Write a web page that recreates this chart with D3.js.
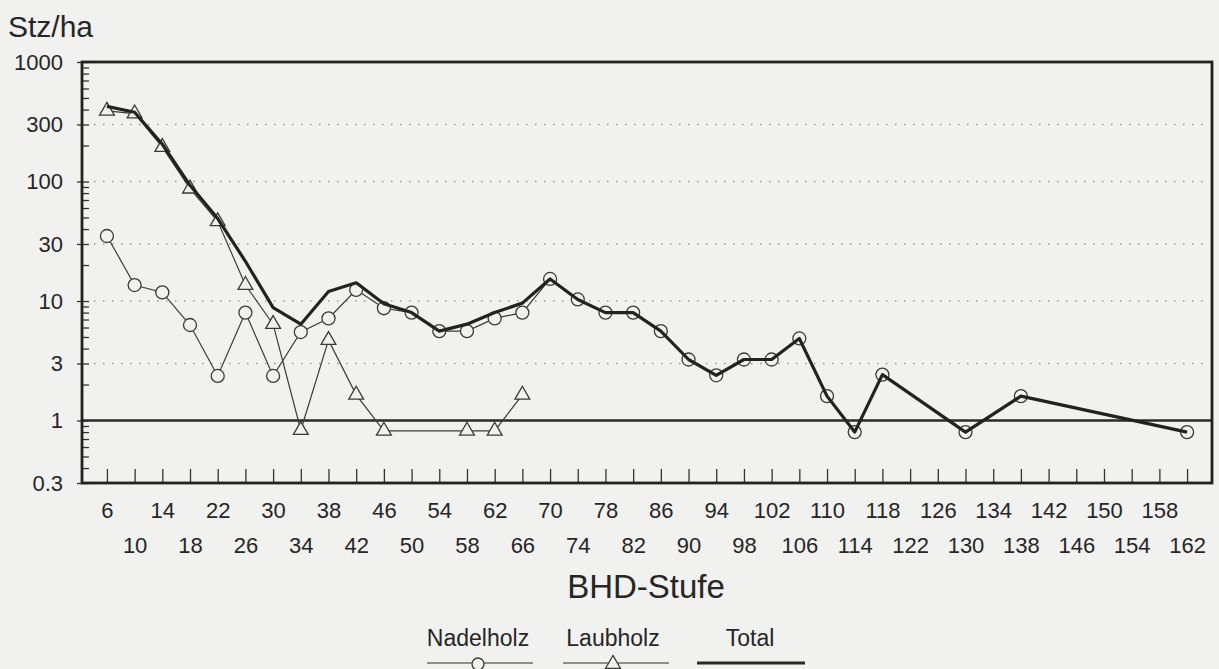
<!DOCTYPE html>
<!-- Stammzahl pro ha nach BHD-Stufe, log scale, three series -->
<html>
<head>
<meta charset="utf-8">
<style>
  body { margin: 0; background: #f1f1ef; }
  text { font-family: "Liberation Sans", Arial, sans-serif; fill: #262626; }
</style>
</head>
<body>
<div id="graph_div"></div>

<script src="https://d3js.org/d3.v7.min.js"></script>

<script>

// BHD classes (cm)
let dbh = [6, 10, 14, 18, 22, 26, 30, 34, 38, 42, 46, 50, 54, 58, 62, 66, 70, 74, 78, 82,
           86, 90, 94, 98, 102, 106, 110, 114, 118, 122, 126, 130, 134, 138, 142, 146, 150, 154, 158, 162];

// stems per ha, null = no trees in that class
let nadelholz = [35, 13.6, 11.8, 6.3, 2.36, 8.0, 2.36, 5.5, 7.15, 12.4, 8.7, 8.0, 5.6, 5.6, 7.15, 8.0, 15.3, 10.3, 8.0, 8.0,
                 5.6, 3.24, 2.39, 3.24, 3.24, 4.86, 1.6, 0.8, 2.42, null, null, 0.8, null, 1.6, null, null, null, null, null, 0.8];

let laubholz = [390, 370, 194, 87, 46.4, 13.6, 6.4, 0.83, 4.7, 1.64, 0.82, null, null, 0.82, 0.82, 1.64, null, null, null, null,
                null, null, null, null, null, null, null, null, null, null, null, null, null, null, null, null, null, null, null, null];

let total = [425, 380, 205, 93, 49, 21.5, 8.8, 6.4, 12, 14.2, 9.5, 8.0, 5.6, 6.4, 8.0, 9.6, 15.3, 10.3, 8.0, 8.0,
             5.6, 3.24, 2.39, 3.24, 3.24, 4.86, 1.6, 0.8, 2.42, null, null, 0.8, null, 1.6, null, null, null, null, null, 0.8];

let y_ticks = [1000, 300, 100, 30, 10, 3, 1, 0.3];
let y_grid = [300, 100, 30, 10, 3];
let y_minor = [0.4, 0.5, 0.6, 0.7, 0.8, 0.9, 2, 4, 5, 6, 7, 8, 9, 20, 40, 50, 60, 70, 80, 90, 200, 400, 500, 600, 700, 800, 900];

let width = 1219, height = 669;
let box = {left: 82, right: 1212, top: 62, bottom: 483};
let bg = "#f1f1ef";

let svg = d3.select("#graph_div")
  .append("svg")
    .attr("width", width)
    .attr("height", height);

svg.append("rect")
    .attr("width", width)
    .attr("height", height)
    .attr("fill", bg);

let x = d3.scalePoint()
    .domain(dbh)
    .range([box.left, box.right])
    .padding(0.9);

let y = d3.scaleLog()
    .domain([0.3, 1000])
    .range([box.bottom, box.top]);

// dotted grid
svg.append("g")
  .selectAll("line")
  .data(y_grid)
  .enter()
  .append("line")
    .attr("x1", box.left + 12)
    .attr("x2", box.right - 6)
    .attr("y1", d => y(d))
    .attr("y2", d => y(d))
    .attr("stroke", "#9a9a9a")
    .attr("stroke-width", 1.5)
    .attr("stroke-dasharray", "1.5,7.5");

// solid line at 1
svg.append("line")
    .attr("x1", box.left)
    .attr("x2", box.right)
    .attr("y1", y(1))
    .attr("y2", y(1))
    .attr("stroke", "#2a2a2a")
    .attr("stroke-width", 2.4);

// y axis, major ticks with labels
let y_axis = svg.append("g")
    .attr("transform", "translate(" + box.left + ",0)")
    .call(d3.axisLeft(y).tickValues(y_ticks).tickFormat(d => String(d)).tickSize(5).tickPadding(14));
y_axis.select(".domain").remove();
y_axis.selectAll("text").style("font-size", "22px").attr("fill", "#262626");
y_axis.selectAll(".tick line").attr("stroke", "#333").attr("stroke-width", 1.3);

// inner ticks
let y_inner = svg.append("g")
    .attr("transform", "translate(" + box.left + ",0)")
    .call(d3.axisLeft(y).tickValues(y_ticks.concat(y_minor)).tickFormat("").tickSize(-7));
y_inner.select(".domain").remove();
y_inner.selectAll(".tick line").attr("stroke", "#333").attr("stroke-width", 1.3);

// x axis
let x_axis = svg.append("g")
    .attr("transform", "translate(0," + box.bottom + ")")
    .call(d3.axisBottom(x).tickSize(-14).tickPadding(0));
x_axis.select(".domain").remove();
x_axis.selectAll(".tick line").attr("stroke", "#333").attr("stroke-width", 1.3);
x_axis.selectAll("text")
    .style("font-size", "22px")
    .attr("fill", "#262626")
    .attr("dy", null)
    .attr("dominant-baseline", "middle")
    .attr("y", (d, i) => i % 2 === 0 ? 29 : 64);

// plot frame
svg.append("rect")
    .attr("x", box.left)
    .attr("y", box.top)
    .attr("width", box.right - box.left)
    .attr("height", box.bottom - box.top)
    .attr("fill", "none")
    .attr("stroke", "#222")
    .attr("stroke-width", 2.8);

// series
function points(values) {
  return dbh.map((d, i) => [d, values[i]]).filter(p => p[1] !== null);
}

let line = d3.line()
    .x(p => x(p[0]))
    .y(p => y(p[1]));

svg.append("path")
    .datum(points(nadelholz))
    .attr("d", line)
    .attr("fill", "none")
    .attr("stroke", "#3a3a3a")
    .attr("stroke-width", 1.2);

svg.append("path")
    .datum(points(laubholz))
    .attr("d", line)
    .attr("fill", "none")
    .attr("stroke", "#3a3a3a")
    .attr("stroke-width", 1.2);

svg.append("g")
  .selectAll("circle")
  .data(points(nadelholz))
  .enter()
  .append("circle")
    .attr("cx", p => x(p[0]))
    .attr("cy", p => y(p[1]))
    .attr("r", 6.5)
    .attr("fill", bg)
    .attr("stroke", "#3a3a3a")
    .attr("stroke-width", 1.3);

let tri = d3.symbol().type(d3.symbolTriangle).size(95);

svg.append("g")
  .selectAll("path")
  .data(points(laubholz))
  .enter()
  .append("path")
    .attr("d", tri)
    .attr("transform", p => "translate(" + x(p[0]) + "," + y(p[1]) + ")")
    .attr("fill", bg)
    .attr("stroke", "#3a3a3a")
    .attr("stroke-width", 1.3);

svg.append("path")
    .datum(points(total))
    .attr("d", line)
    .attr("fill", "none")
    .attr("stroke", "#222")
    .attr("stroke-width", 3.2)
    .attr("stroke-linejoin", "round");

// titles
svg.append("text")
    .attr("x", 8)
    .attr("y", 37)
    .style("font-size", "30px")
    .text("Stz/ha");

svg.append("text")
    .attr("x", 646)
    .attr("y", 598)
    .attr("text-anchor", "middle")
    .style("font-size", "33px")
    .text("BHD-Stufe");

// legend
let legend = [
  {name: "Nadelholz", x1: 427, x2: 533, cx: 478, mark: "circle", width: 1.2},
  {name: "Laubholz", x1: 563, x2: 669, cx: 613, mark: "triangle", width: 1.2},
  {name: "Total", x1: 697, x2: 805, cx: 750, mark: null, width: 3.2}
];
let ly = 663;

let leg = svg.append("g")
  .selectAll("g")
  .data(legend)
  .enter()
  .append("g");

leg.append("text")
    .attr("x", d => d.cx)
    .attr("y", 646)
    .attr("text-anchor", "middle")
    .style("font-size", "23px")
    .text(d => d.name);

leg.append("line")
    .attr("x1", d => d.x1)
    .attr("x2", d => d.x2)
    .attr("y1", ly)
    .attr("y2", ly)
    .attr("stroke", "#2a2a2a")
    .attr("stroke-width", d => d.width);

leg.filter(d => d.mark === "circle")
  .append("circle")
    .attr("cx", d => d.cx)
    .attr("cy", ly + 1)
    .attr("r", 6)
    .attr("fill", bg)
    .attr("stroke", "#3a3a3a")
    .attr("stroke-width", 1.3);

leg.filter(d => d.mark === "triangle")
  .append("path")
    .attr("d", tri)
    .attr("transform", d => "translate(" + d.cx + "," + (ly + 1) + ")")
    .attr("fill", bg)
    .attr("stroke", "#3a3a3a")
    .attr("stroke-width", 1.3);

</script>
</body>
</html>
